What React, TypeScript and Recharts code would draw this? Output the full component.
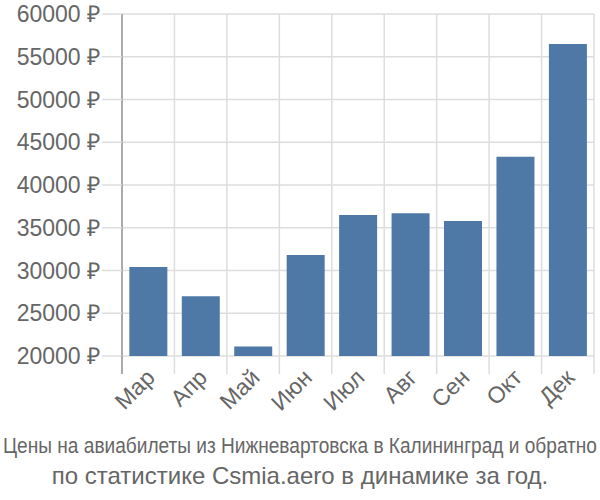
import React from "react";
import { BarChart, Bar, XAxis, YAxis, CartesianGrid } from "recharts";

const MONTHS = ["Мар", "Апр", "Май", "Июн", "Июл", "Авг", "Сен", "Окт", "Дек"];
const PRICES = [30400, 27000, 21100, 31800, 36500, 36700, 35800, 43300, 56500];
const Y_TICKS = [20000, 25000, 30000, 35000, 40000, 45000, 50000, 55000, 60000];
const TITLE_1 = "Цены на авиабилеты из Нижневартовска в Калининград и обратно";
const TITLE_2 = "по статистике Csmia.aero в динамике за год.";

const W = 600;
const H = 500;
const LEFT = 122;
const RIGHT_M = 6;
const TOP = 14;
const PLOT_BOTTOM = 356;
const BAND = (W - LEFT - RIGHT_M) / MONTHS.length;
const FONT = "'Liberation Sans', Arial, sans-serif";
const NARROW = "'Liberation Sans Narrow', 'Arial Narrow', 'Liberation Sans', sans-serif";

const data = MONTHS.map((m, i) => ({ month: m, price: PRICES[i] }));

function MonthTick({ x, y, payload, index }: any) {
  const left = x - BAND / 2;
  return (
    <g>
      <line
        x1={left}
        x2={left}
        y1={y}
        y2={y + 18}
        stroke={index === 0 ? "#aaa" : "#ddd"}
        strokeWidth={index === 0 ? 2 : 1.5}
      />
      {index === MONTHS.length - 1 && (
        <line x1={x + BAND / 2} x2={x + BAND / 2} y1={y} y2={y + 18} stroke="#ddd" strokeWidth={1.5} />
      )}
      <text
        x={x + 8}
        y={y + 23}
        textAnchor="end"
        fill="#666"
        fontSize={23}
        fontFamily={FONT}
        transform={`rotate(-45, ${x + 8}, ${y + 23})`}
      >
        {payload.value}
      </text>
    </g>
  );
}

export default function App() {
  return (
    <div style={{ position: "absolute", left: 0, top: 0, width: W, height: H, background: "#fff" }}>
      <BarChart
        width={W}
        height={H}
        data={data}
        margin={{ top: TOP, right: RIGHT_M, left: 0, bottom: 0 }}
        barCategoryGap="14%"
      >
        <CartesianGrid
          stroke="#ddd"
          strokeWidth={1.5}
          verticalCoordinatesGenerator={() =>
            MONTHS.map((_, i) => LEFT + BAND * (i + 1))
          }
        />
        <XAxis
          dataKey="month"
          tickLine={false}
          axisLine={false}
          tickSize={0}
          tickMargin={0}
          height={H - PLOT_BOTTOM}
          interval={0}
          tick={<MonthTick />}
        />
        <YAxis
          width={LEFT}
          domain={[20000, 60000]}
          ticks={Y_TICKS}
          interval={0}
          tickFormatter={(v) => `${v} ₽`}
          tickSize={20}
          tickMargin={2}
          tickLine={{ stroke: "#ddd", strokeWidth: 1.5 }}
          axisLine={{ stroke: "#aaa", strokeWidth: 2 }}
          tick={{ fill: "#666", fontSize: 23, fontFamily: FONT }}
        />
        <Bar dataKey="price" fill="#4e78a6" isAnimationActive={false} />
      </BarChart>
      <svg width={W} height={75} style={{ position: "absolute", left: 0, top: 425 }}>
        <text
          x={3}
          y={28}
          fill="#666"
          fontSize={22}
          fontFamily={NARROW}
          textLength={594}
          lengthAdjust="spacingAndGlyphs"
        >
          {TITLE_1}
        </text>
        <text x={W / 2} y={59} fill="#666" fontSize={24} fontFamily={FONT} textAnchor="middle">
          {TITLE_2}
        </text>
      </svg>
    </div>
  );
}
